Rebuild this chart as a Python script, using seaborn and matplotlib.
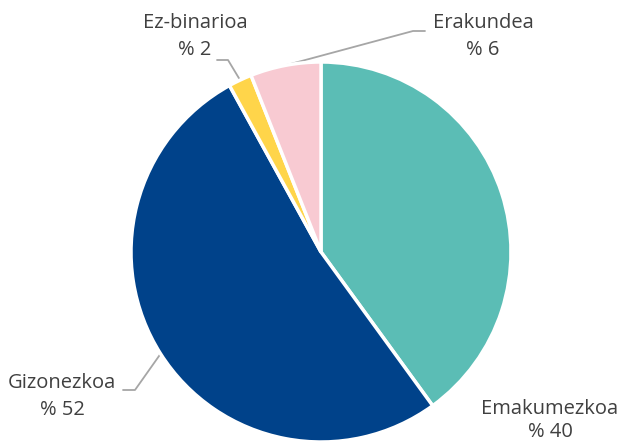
import numpy as np
import matplotlib
matplotlib.use("Agg")
import matplotlib.pyplot as plt
import seaborn as sns

categories = ["Emakumezkoa", "Gizonezkoa", "Ez-binarioa", "Erakundea"]
values = [40, 52, 2, 6]
pct_labels = ["% 40", "% 52", "% 2", "% 6"]
hex_colors = ["#5BBDB5", "#00428A", "#FFD54A", "#F8CAD2"]

sns.set_theme(style="white")
plt.rcParams['font.family'] = ['Open Sans', 'DejaVu Sans']

W, H = 624, 443
fig = plt.figure(figsize=(W / 100, H / 100), dpi=100)
ax = fig.add_axes([0, 0, 1, 1])

cx, cy, R = 321, H - 252, 190
palette = sns.color_palette(hex_colors)
wedges, _ = ax.pie(values, colors=palette, startangle=90, counterclock=False,
                   center=(cx, cy), radius=R, frame=True,
                   wedgeprops=dict(edgecolor="white", linewidth=2.5))
ax.set_xlim(0, W)
ax.set_ylim(0, H)
ax.set_aspect("equal")
ax.axis("off")

txt_color = "#404040"
line_color = "#A6A6A6"
fs = 14.5

# label positions (top-left origin pixel coords): (x, y_name, y_pct)
label_pos = {
    "Emakumezkoa": (550, 409, 432),
    "Gizonezkoa": (62, 383, 410),
    "Ez-binarioa": (195, 23, 50),
    "Erakundea": (483, 23, 50),
}
# leader line elbows (pixel coords)
elbows = {
    "Gizonezkoa": [(135, 390), (123, 390)],
    "Ez-binarioa": [(228, 60), (217, 60)],
    "Erakundea": [(413, 31), (425, 31)],
}

for w, cat, pl in zip(wedges, categories, pct_labels):
    x, yn, yp = label_pos[cat]
    ax.text(x, H - yn, cat, ha="center", va="center", fontsize=fs, color=txt_color)
    ax.text(x, H - yp, pl, ha="center", va="center", fontsize=fs, color=txt_color)
    if cat in elbows:
        ang = np.deg2rad((w.theta1 + w.theta2) / 2)
        sx, sy = cx + R * np.cos(ang), cy + R * np.sin(ang)
        pts = [(sx, sy)] + [(px, H - py) for px, py in elbows[cat]]
        xs, ys = zip(*pts)
        ax.plot(xs, ys, color=line_color, linewidth=1.3, zorder=0)

fig.savefig("out.png", dpi=100)
